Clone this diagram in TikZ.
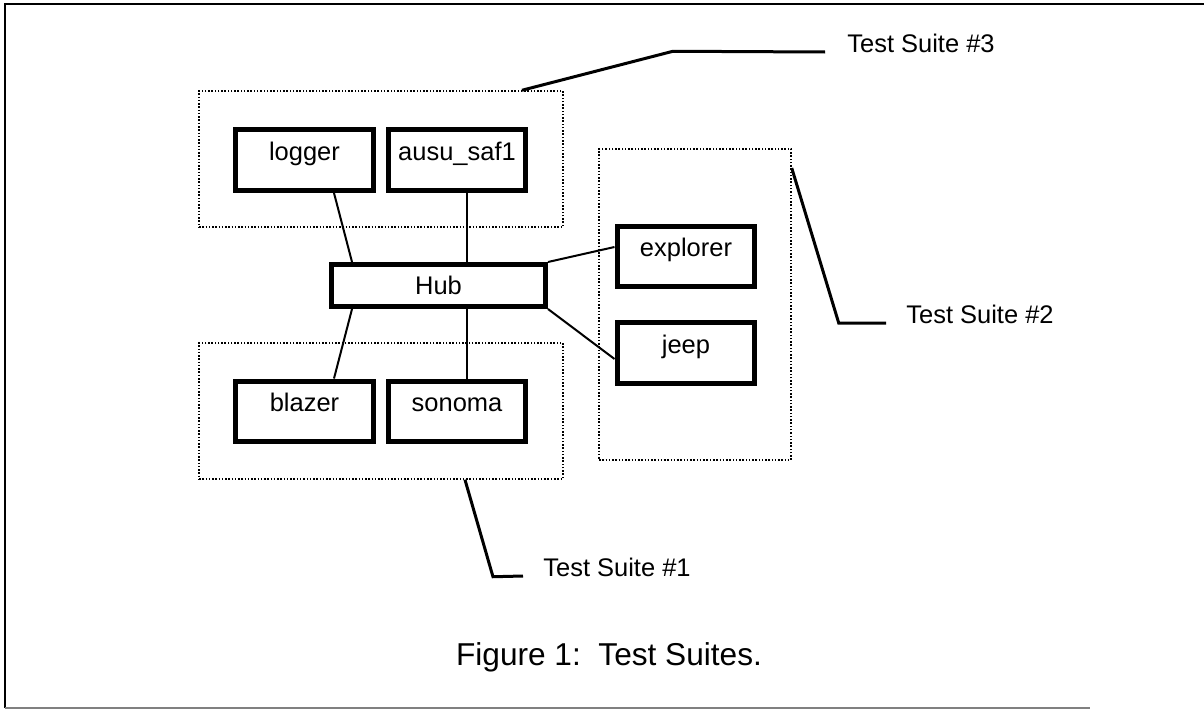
\documentclass[tikz,border=0pt]{standalone}
\usepackage{fontspec}
\setmainfont{Liberation Sans}
\begin{document}
\begin{tikzpicture}[x=0.02cm, y=-0.02cm,
	every node/.style={black, font=\fontsize{14.5pt}{17pt}\selectfont},
	host/.style={draw, line width=0.1cm, minimum width=2.76cm, inner sep=0pt, text height=0.61cm, text depth=0.61cm},
	suite/.style={draw, densely dotted, line width=0.03cm, inner sep=0pt},
	wire/.style={line width=0.04cm},
	leader/.style={line width=0.06cm}]
	\useasboundingbox (0,0) rectangle (1204,710);

	% page frame
	\draw[line width=0.06cm] (1204,4) -- (5,4) -- (5,708);
	\draw[gray, line width=0.03cm] (5,708) -- (1090,708);

	% test suites
	\node[suite, minimum width=7.28cm, minimum height=2.72cm] (suite3) at (381,159) {};
	\node[suite, minimum width=7.28cm, minimum height=2.72cm] (suite1) at (381,411) {};
	\node[suite, minimum width=3.84cm, minimum height=6.22cm] (suite2) at (695,304.5) {};

	% machines
	\node[host] (logger) at (304.5,160) {logger};
	\node[host] (ausu) at (457,160) {ausu\_saf1};
	\node[host] (blazer) at (304.5,411.5) {blazer};
	\node[host] (sonoma) at (457,411.5) {sonoma};
	\node[host] (explorer) at (686,256.5) {explorer};
	\node[host] (jeep) at (686,353) {jeep};
	\node[draw, line width=0.1cm, minimum width=4.28cm, minimum height=0.84cm, inner sep=0pt] (hub) at (438.5,285.5) {Hub};

	\draw[wire] ([xshift=0.59cm]logger.south) -- ([xshift=-1.73cm]hub.north);
	\draw[wire] ([xshift=0.2cm]ausu.south) -- ([xshift=0.2cm]ausu.south |- hub.north);
	\draw[wire] ([xshift=-1.73cm]hub.south) -- ([xshift=0.59cm]blazer.north);
	\draw[wire] ([xshift=0.2cm]sonoma.north |- hub.south) -- ([xshift=0.2cm]sonoma.north);
	\draw[wire] (hub.north east) -- ([yshift=0.19cm]explorer.west);
	\draw[wire] (hub.south east) -- ([yshift=-0.12cm]jeep.west);

	% suite labels
	\node[anchor=base west, inner sep=0pt] (lab3) at (847,52) {Test Suite \#3};
	\node[anchor=base west, inner sep=0pt] (lab2) at (906,323) {Test Suite \#2};
	\node[anchor=base west, inner sep=0pt] (lab1) at (543,576) {Test Suite \#1};

	\draw[leader] ([xshift=2.82cm]suite3.north) -- ++(151,-39) -- ([xshift=-0.44cm]lab3.base west);
	\draw[leader] ([yshift=2.73cm]suite2.east) -- ++(47,155) -- ([xshift=-0.4cm]lab2.base west);
	\draw[leader] ([xshift=1.68cm]suite1.south) -- ++(28,97) -- ([xshift=-0.4cm]lab1.base west);

	\node[anchor=base, font=\fontsize{18pt}{21pt}\selectfont] (caption) at (609,665) {Figure 1:\ \ Test Suites.};
\end{tikzpicture}
\end{document}
